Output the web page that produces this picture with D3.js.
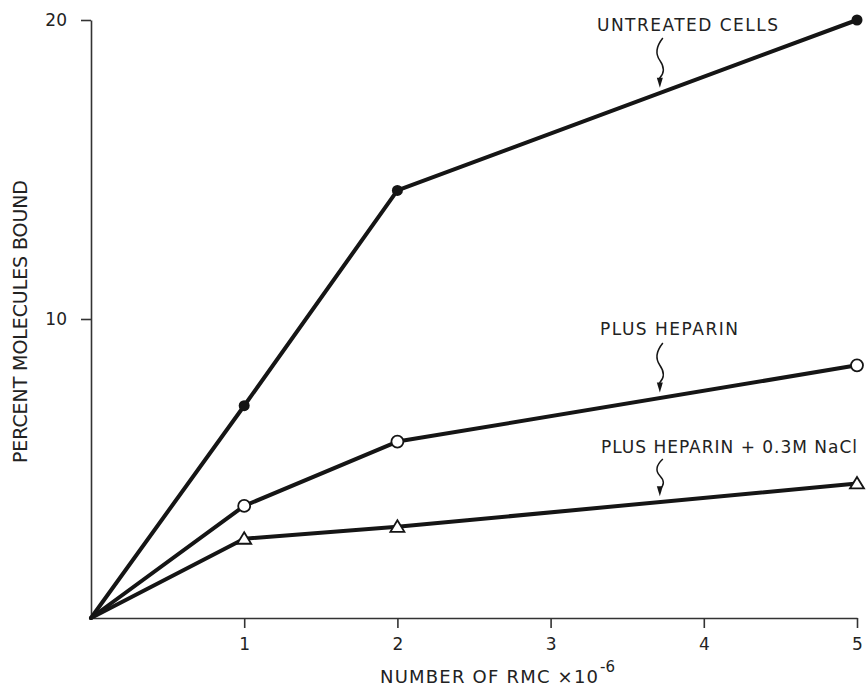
<!DOCTYPE html>
<html>
<head>
<meta charset="utf-8">
<script src="https://d3js.org/d3.v7.min.js"></script>
<style>
    body { margin: 0; background: #fff; }
    svg { display: block; }
    text { font-family: "DejaVu Sans", sans-serif; fill: #222; }
</style>
</head>
<body>
<svg id="chart" width="866" height="690"></svg>
<script>
    // values
    var xValues = [0, 1, 2, 5];
    var untreated = [0, 7.1, 14.3, 20];
    var heparin = [0, 3.75, 5.9, 8.45];
    var heparinNaCl = [0, 2.65, 3.05, 4.5];
    var xTicks = [1, 2, 3, 4, 5];
    var yTicks = [10, 20];
    var seriesNames = ['UNTREATED CELLS', 'PLUS HEPARIN', 'PLUS HEPARIN + 0.3M NaCl'];

    var x = d3.scaleLinear().domain([0, 5]).range([91, 857]);
    var y = d3.scaleLinear().domain([0, 20]).range([618, 20]);

    var svg = d3.select('#chart');
    var ink = '#151515';

    // axes
    var xAxis = d3.axisBottom(x).tickValues(xTicks).tickSize(10).tickSizeOuter(0).tickPadding(10)
        .tickFormat(d3.format('d'));
    var yAxis = d3.axisLeft(y).tickValues(yTicks).tickSize(10).tickSizeOuter(0).tickPadding(14)
        .tickFormat(d3.format('d'));

    var gx = svg.append('g').attr('transform', 'translate(0,' + y(0) + ')').call(xAxis);
    var gy = svg.append('g').attr('transform', 'translate(' + x(0) + ',0)').call(yAxis);
    [gx, gy].forEach(function(g) {
        g.select('.domain').attr('stroke', '#333').attr('stroke-width', 1.6);
        g.selectAll('.tick line').attr('stroke', '#333').attr('stroke-width', 1.6);
        g.selectAll('.tick text').attr('font-size', 17).attr('fill', '#222')
            .attr('font-family', '"DejaVu Sans", sans-serif');
    });

    // axis titles
    svg.append('text')
        .attr('x', 380).attr('y', 683)
        .attr('font-size', 18)
        .attr('textLength', 218).attr('lengthAdjust', 'spacing')
        .text('NUMBER OF RMC \u00d710');
    svg.append('text')
        .attr('x', 600).attr('y', 672)
        .attr('font-size', 15)
        .text('-6');

    svg.append('text')
        .attr('transform', 'translate(27,463) rotate(-90)')
        .attr('font-size', 19)
        .attr('textLength', 283).attr('lengthAdjust', 'spacing')
        .text('PERCENT MOLECULES BOUND');

    // series
    var series = [
        { name: seriesNames[0], values: untreated, marker: 'dot', labelX: 597, labelY: 31, labelW: 181, arrowTop: 38 },
        { name: seriesNames[1], values: heparin, marker: 'circle', labelX: 600, labelY: 335, labelW: 138, arrowTop: 343 },
        { name: seriesNames[2], values: heparinNaCl, marker: 'triangle', labelX: 601, labelY: 453, labelW: 256, arrowTop: 459 }
    ];

    var line = d3.line()
        .x(function(d) { return x(d[0]); })
        .y(function(d) { return y(d[1]); });

    series.forEach(function(s) {
        var pts = xValues.map(function(v, i) { return [v, s.values[i]]; });
        svg.append('path')
            .datum(pts)
            .attr('d', line)
            .attr('fill', 'none')
            .attr('stroke', ink)
            .attr('stroke-width', 4)
            .attr('stroke-linejoin', 'round')
            .attr('stroke-linecap', 'round');

        var marks = pts.slice(1);
        if (s.marker === 'dot') {
            svg.selectAll(null).data(marks).enter().append('circle')
                .attr('cx', function(d) { return x(d[0]); })
                .attr('cy', function(d) { return y(d[1]); })
                .attr('r', 5.5)
                .attr('fill', ink);
        } else if (s.marker === 'circle') {
            svg.selectAll(null).data(marks).enter().append('circle')
                .attr('cx', function(d) { return x(d[0]); })
                .attr('cy', function(d) { return y(d[1]); })
                .attr('r', 6)
                .attr('fill', '#fff')
                .attr('stroke', ink)
                .attr('stroke-width', 1.8);
        } else {
            svg.selectAll(null).data(marks).enter().append('path')
                .attr('transform', function(d) { return 'translate(' + x(d[0]) + ',' + y(d[1]) + ')'; })
                .attr('d', 'M0,-6.5L7,5L-7,5Z')
                .attr('fill', '#fff')
                .attr('stroke', ink)
                .attr('stroke-width', 1.8);
        }

        // label
        svg.append('text')
            .attr('x', s.labelX).attr('y', s.labelY)
            .attr('font-size', 17)
            .attr('textLength', s.labelW).attr('lengthAdjust', 'spacing')
            .text(s.name);

        // wavy arrow pointing to the line at x = 3.7
        var ax = 3.7;
        var av = d3.scaleLinear().domain(xValues).range(s.values)(ax);
        var tx = x(ax) + 2, tip = y(av) - 6, top = s.arrowTop;
        var L = tip - top;
        var p = d3.path();
        p.moveTo(tx + 3, top);
        p.quadraticCurveTo(tx - 7, top + L * 0.25, tx, top + L * 0.45);
        p.quadraticCurveTo(tx + 7, top + L * 0.65, tx, top + L * 0.8);
        p.lineTo(tx, tip - 8);
        svg.append('path')
            .attr('d', p.toString())
            .attr('fill', 'none')
            .attr('stroke', ink)
            .attr('stroke-width', 1.5);
        svg.append('path')
            .attr('d', 'M' + (tx - 3) + ',' + (tip - 10) + 'L' + (tx + 3) + ',' + (tip - 10) + 'L' + tx + ',' + tip + 'Z')
            .attr('fill', ink);
    });
</script>
</body>
</html>
